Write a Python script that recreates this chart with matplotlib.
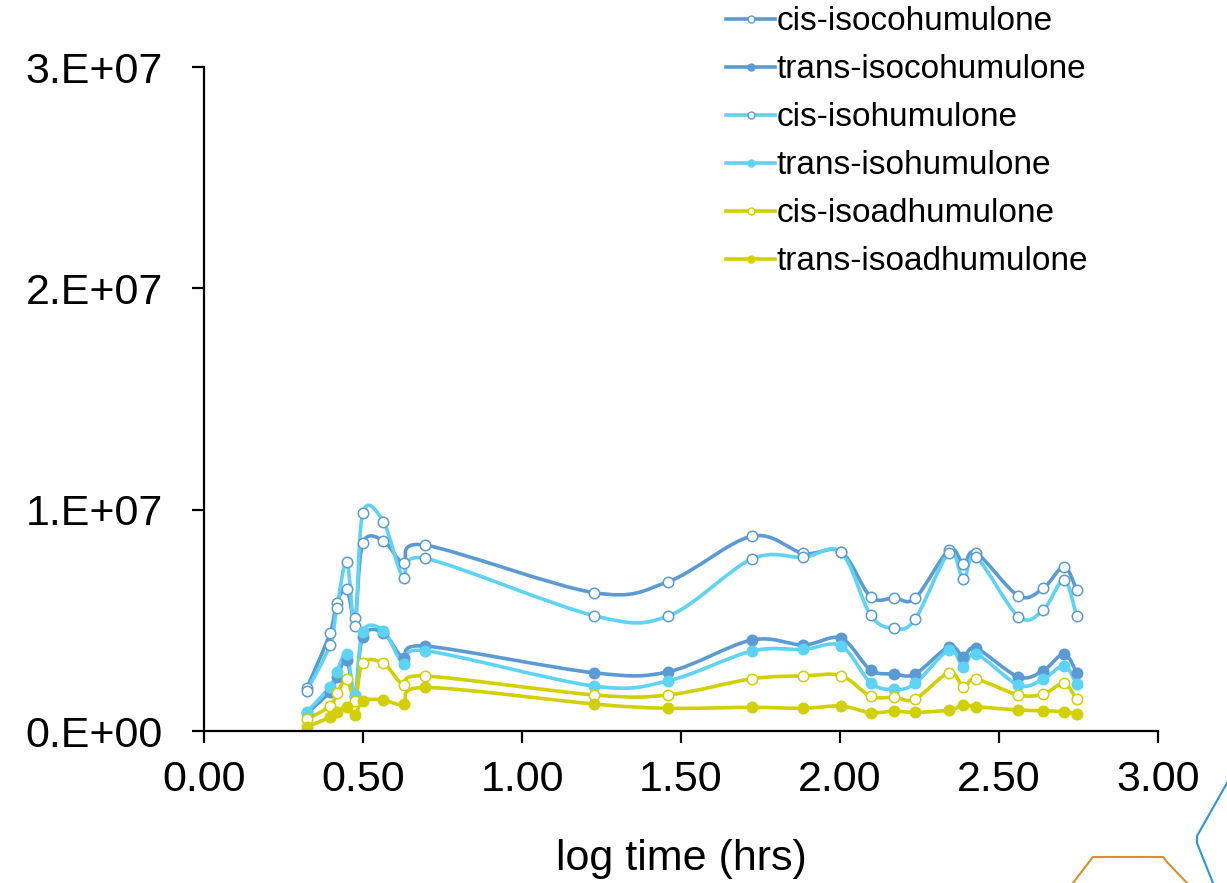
import numpy as np
import matplotlib
matplotlib.use("Agg")
import matplotlib.pyplot as plt
from matplotlib.path import Path
from matplotlib.patches import PathPatch
from matplotlib.lines import Line2D
from matplotlib.ticker import FuncFormatter, MultipleLocator

plt.rcParams["font.family"] = ["Liberation Sans", "DejaVu Sans"]

# log10 of time in hours
log_time = [0.323, 0.396, 0.417, 0.449, 0.475, 0.499, 0.564, 0.629, 0.695,
            1.227, 1.460, 1.722, 1.885, 2.003, 2.096, 2.171, 2.236, 2.343,
            2.388, 2.428, 2.561, 2.639, 2.704, 2.744]

# peak areas (millions)
cis_isoco = [1.93, 4.41, 5.80, 6.40, 5.09, 8.48, 8.60, 7.58, 8.40, 6.25, 6.75, 8.80,
             8.03, 8.10, 6.07, 6.02, 6.00, 8.18, 7.55, 8.06, 6.11, 6.45, 7.42, 6.37]
trans_isoco = [0.80, 1.78, 2.45, 3.21, 1.55, 4.26, 4.44, 3.28, 3.84, 2.63, 2.68, 4.11,
               3.89, 4.19, 2.76, 2.58, 2.58, 3.81, 3.36, 3.74, 2.45, 2.73, 3.48, 2.64]
cis_iso = [1.81, 3.89, 5.54, 7.65, 4.74, 9.84, 9.46, 6.90, 7.80, 5.21, 5.20, 7.77,
           7.85, 8.08, 5.24, 4.64, 5.05, 8.06, 6.85, 7.85, 5.17, 5.47, 6.82, 5.20]
trans_iso = [0.86, 2.00, 2.68, 3.48, 1.63, 4.49, 4.53, 3.03, 3.63, 2.03, 2.27, 3.61,
             3.69, 3.85, 2.18, 1.88, 2.15, 3.66, 2.91, 3.48, 2.08, 2.35, 2.95, 2.12]
cis_isoad = [0.53, 1.13, 1.70, 2.34, 1.37, 3.06, 3.06, 2.08, 2.49, 1.63, 1.63, 2.36,
             2.49, 2.50, 1.58, 1.52, 1.45, 2.64, 2.00, 2.34, 1.63, 1.67, 2.15, 1.43]
trans_isoad = [0.20, 0.62, 0.87, 1.07, 0.72, 1.37, 1.40, 1.21, 1.97, 1.22, 1.03, 1.07,
               1.03, 1.13, 0.83, 0.90, 0.84, 0.95, 1.17, 1.10, 0.95, 0.92, 0.87, 0.77]

labels = ["cis-isocohumulone", "trans-isocohumulone", "cis-isohumulone",
          "trans-isohumulone", "cis-isoadhumulone", "trans-isoadhumulone"]

DARK = "#5B9BD5"
LIGHT = "#5DD3F5"
YELLOW = "#D2D000"

# (values, line colour, marker face, marker edge)
styles = [
    (cis_isoco, DARK, "white", DARK),
    (trans_isoco, DARK, DARK, DARK),
    (cis_iso, LIGHT, "white", DARK),
    (trans_iso, LIGHT, LIGHT, LIGHT),
    (cis_isoad, YELLOW, "white", YELLOW),
    (trans_isoad, YELLOW, YELLOW, YELLOW),
]


def smooth_path(x, y):
    """Excel-style smoothed line as cubic bezier segments through the points."""
    p = np.column_stack([x, y])
    n = len(p)
    verts = [p[0]]
    codes = [Path.MOVETO]
    for i in range(n - 1):
        p0 = p[max(i - 1, 0)]
        p3 = p[min(i + 2, n - 1)]
        c1 = p[i] + (p[i + 1] - p0) / 6.0
        c2 = p[i + 1] - (p3 - p[i]) / 6.0
        verts += [c1, c2, p[i + 1]]
        codes += [Path.CURVE4] * 3
    return Path(verts, codes)


fig = plt.figure(figsize=(12.27, 8.83), dpi=100)
ax = fig.add_axes([0.1663, 0.1721, 0.9438 - 0.1663, 0.9241 - 0.1721])

xs = np.array(log_time)
handles = []
for (vals, lc, mfc, mec), lab in zip(styles, labels):
    ys = np.array(vals) * 1e6
    ax.add_patch(PathPatch(smooth_path(xs, ys), fill=False, edgecolor=lc,
                           linewidth=2.6, capstyle="round", joinstyle="round"))
    ax.plot(xs, ys, linestyle="none", marker="o", markersize=7.5,
            markerfacecolor=mfc, markeredgecolor=mec, markeredgewidth=1.1)
    handles.append(Line2D([], [], color=lc, linewidth=2.6, marker="o",
                          markersize=5, markerfacecolor=mfc,
                          markeredgecolor=mec, markeredgewidth=1.0))

ax.set_xlim(0, 3)
ax.set_ylim(0, 3e7)
ax.xaxis.set_major_locator(MultipleLocator(0.5))
ax.yaxis.set_major_locator(MultipleLocator(1e7))
ax.xaxis.set_major_formatter(FuncFormatter(lambda v, p: f"{v:.2f}"))


def sci(v, p):
    if v == 0:
        return "0.E+00"
    e = int(np.floor(np.log10(abs(v))))
    return f"{int(round(v / 10 ** e))}.E+{e:02d}"


ax.yaxis.set_major_formatter(FuncFormatter(sci))

for s in ["top", "right"]:
    ax.spines[s].set_visible(False)
for s in ["left", "bottom"]:
    ax.spines[s].set_linewidth(1.6)
ax.tick_params(axis="both", direction="out", length=8.6, width=1.6,
               labelsize=31)
ax.tick_params(axis="y", pad=21)
ax.tick_params(axis="x", pad=12)
ax.set_xlabel("log time (hrs)", fontsize=31, labelpad=28)

fig.legend(handles, labels, loc="upper left", bbox_to_anchor=(0.592, 0.993),
           frameon=False, fontsize=24, handlelength=1.45, handletextpad=0.05,
           labelspacing=0.51, borderpad=0.0, borderaxespad=0.0)

# slide decoration in the bottom right corner
fig.add_artist(Line2D([1073, 1089, 1093, 1163, 1167, 1187],
                      [0, 21, 26, 26, 21, 0], transform=None,
                      color="#D9902A", linewidth=1.5))
fig.add_artist(Line2D([1227, 1197, 1197, 1213],
                      [100, 47, 40, 0], transform=None,
                      color="#2A95E0", linewidth=1.5))

fig.savefig("out.png", dpi=100)
